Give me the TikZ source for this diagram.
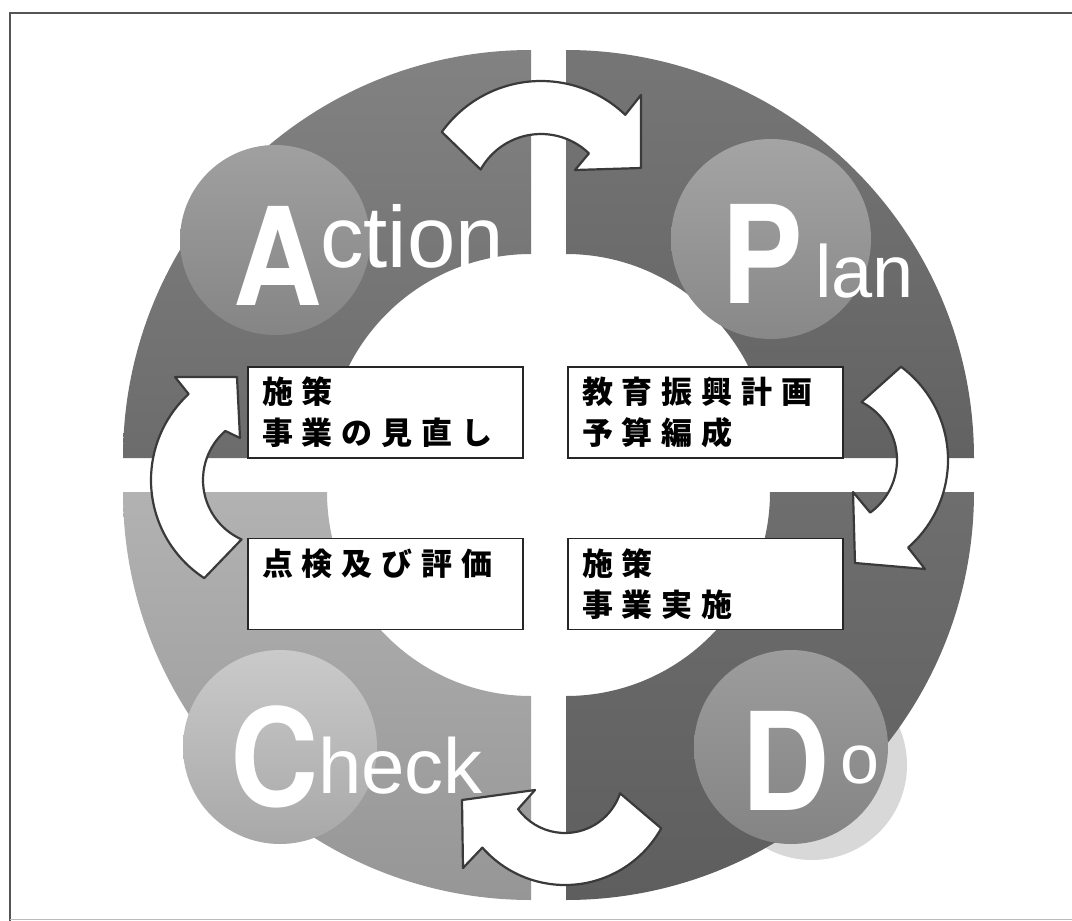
\documentclass[tikz,border=0pt]{standalone}
\usepackage{fontspec}
\newfontfamily\jp[LetterSpace=29]{Noto Sans CJK JP}
\newfontfamily\smallfont{Liberation Sans}
\newfontfamily\capfont[FakeStretch=0.9]{TeX Gyre Heros}
\definecolor{frameC}{HTML}{555555}
\definecolor{frameB}{HTML}{BBBBBB}
\definecolor{ringAtop}{HTML}{828282}
\definecolor{ringAbot}{HTML}{6C6C6C}
\definecolor{ringPtop}{HTML}{767676}
\definecolor{ringPbot}{HTML}{626262}
\definecolor{ringCtop}{HTML}{B2B2B2}
\definecolor{ringCbot}{HTML}{969696}
\definecolor{ringDtop}{HTML}{6E6E6E}
\definecolor{ringDbot}{HTML}{5E5E5E}
\definecolor{circAtop}{HTML}{A0A0A0}
\definecolor{circAbot}{HTML}{858585}
\definecolor{circPtop}{HTML}{A4A4A4}
\definecolor{circPbot}{HTML}{888888}
\definecolor{circCtop}{HTML}{CACACA}
\definecolor{circCbot}{HTML}{A8A8A8}
\definecolor{circDtop}{HTML}{9C9C9C}
\definecolor{circDbot}{HTML}{848484}
\definecolor{shadowC}{HTML}{D8D8D8}
\definecolor{outlineC}{HTML}{3A3A3A}
\begin{document}
\begin{tikzpicture}[x=1pt,y=-1pt,
  frameline/.style={draw=frameC, line width=1.4pt},
  badge/.style={circle, inner sep=0pt, minimum size=#1},
  arrowshape/.style={fill=white, draw=outlineC, line width=2.2pt, line join=round},
  textbox/.style={draw=black!85, line width=1.3pt, fill=white, minimum height=91pt,
    text width=247pt, align=left, inner xsep=14pt, inner ysep=0pt,
    font=\jp\bfseries\fontsize{31}{41}\selectfont},
  bigletter/.style={anchor=base west, inner sep=0pt, text=white,
    font=\capfont\bfseries\fontsize{136}{136}\selectfont},
  smallletters/.style={anchor=base west, inner sep=0pt, text=white,
    font=\smallfont\fontsize{#1}{#1}\selectfont}
]
\useasboundingbox (0,0) rectangle (1072,921);
\fill[white] (0,0) rectangle (1072,921);
\draw[frameline] (10,921) -- (10,13) -- (1072,13);
\draw[draw=frameB, line width=1pt] (10,919) -- (1072,919);

% shadow behind Do badge
\fill[shadowC] (812,765) circle[radius=95];

% ring quadrants
\path[top color=ringAtop, bottom color=ringAbot]
  ([shift={(180:408)}]531,458) arc[start angle=180,end angle=270,radius=408]
  -- ([shift={(270:204)}]531,458) arc[start angle=270,end angle=180,radius=204] -- cycle;
\path[top color=ringPtop, bottom color=ringPbot]
  ([shift={(270:408)}]566,458) arc[start angle=270,end angle=360,radius=408]
  -- ([shift={(0:204)}]566,458) arc[start angle=360,end angle=270,radius=204] -- cycle;
\path[top color=ringDtop, bottom color=ringDbot]
  ([shift={(0:408)}]566,492) arc[start angle=0,end angle=90,radius=408]
  -- ([shift={(90:204)}]566,492) arc[start angle=90,end angle=0,radius=204] -- cycle;
\path[top color=ringCtop, bottom color=ringCbot]
  ([shift={(90:408)}]531,492) arc[start angle=90,end angle=180,radius=408]
  -- ([shift={(180:204)}]531,492) arc[start angle=180,end angle=90,radius=204] -- cycle;

% badges
\node[badge=190pt, top color=circAtop, bottom color=circAbot] (cA) at (275,240) {};
\node[badge=200pt, top color=circPtop, bottom color=circPbot] (cP) at (771,239) {};
\node[badge=194pt, top color=circCtop, bottom color=circCbot] (cC) at (280,747) {};
\node[badge=194pt, top color=circDtop, bottom color=circDbot] (cD) at (791,747) {};

% letters
\node[bigletter] (lA) at (233,305) {A};
\node[smallletters=87] (sA) at (320,267) {ction};
\node[bigletter] (lP) at (721,303) {P};
\node[smallletters=74] (sP) at (815,297) {lan};
\node[bigletter] (lC) at (230,806) {C};
\node[smallletters=78] (sC) at (318,793) {heck};
\node[bigletter] (lD) at (741,810) {D};
\node[smallletters=70] (sD) at (840,783) {o};

% curved arrows
\draw[arrowshape] ([shift={(215.6:122)}]541,203) arc[start angle=215.6,end angle=313.7,radius=122]
  -- (641,95) -- (641,168) -- (575,170)
  -- ([shift={(314:69)}]541,203) arc[start angle=314,end angle=209,radius=69] -- cycle;
\draw[arrowshape] ([shift={(-53.5:116)}]832,460) arc[start angle=-53.5,end angle=49,radius=116]
  -- (925,569) -- (855,563) -- (853,492)
  -- ([shift={(54:65)}]832,460) arc[start angle=54,end angle=-63,radius=65] -- cycle;
\draw[arrowshape] ([shift={(29:110)}]565,775) arc[start angle=29,end angle=138.7,radius=110]
  -- (463,868) -- (462,800) -- (535,790)
  -- ([shift={(144:58)}]565,775) arc[start angle=144,end angle=18.4,radius=58] -- cycle;
\draw[arrowshape] ([shift={(123:117)}]268,480) arc[start angle=123,end angle=227.3,radius=117]
  -- (175,377) -- (237,377) -- (240,438)
  -- ([shift={(229:65)}]268,480) arc[start angle=229,end angle=114,radius=65] -- cycle;

% text boxes
\node[textbox] (boxA) at (385.5,412.5) {施策\\事業の見直し};
\node[textbox] (boxP) at (705.5,412.5) {教育振興計画\\予算編成};
\node[textbox] (boxC) at (385.5,584) {点検及び評価\\\vphantom{事}};
\node[textbox] (boxD) at (705.5,584) {施策\\事業実施};
\end{tikzpicture}
\end{document}
